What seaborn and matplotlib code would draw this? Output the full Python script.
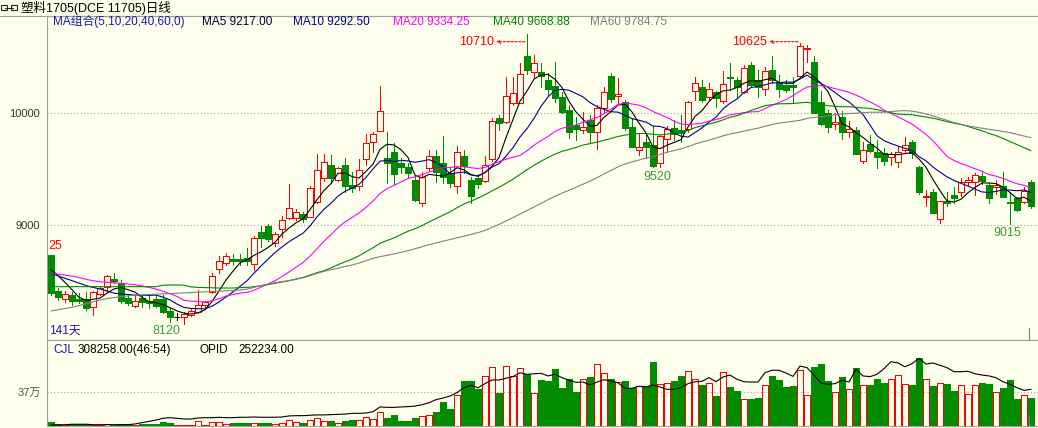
import numpy as np
import pandas as pd
import matplotlib
matplotlib.use("Agg")
import matplotlib.pyplot as plt
import seaborn as sns
from matplotlib.patches import Rectangle
from matplotlib.lines import Line2D

# ---------------- data ----------------
opens = [8735, 8413, 8339, 8378, 8339, 8339, 8274, 8387, 8452, 8521,
         8488, 8354, 8279, 8348, 8324, 8342, 8342, 8238, 8178, 8178,
         8199, 8229, 8288, 8404, 8613, 8666, 8696, 8696, 8705, 8651,
         8940, 8994, 8839, 8964, 9062, 9062, 9098, 9071, 9205, 9425,
         9538, 9404, 9538, 9360, 9354, 9595, 9740, 9845, 9598, 9657,
         9559, 9524, 9405, 9202, 9509, 9622, 9554, 9458, 9354, 9622,
         9405, 9420, 9399, 9589, 9955, 9926, 10089, 10095, 10515, 10366,
         10366, 10298, 10244, 10149, 10030, 9896, 9851, 9940, 9836, 10045,
         10333, 10155, 10104, 9881, 9673, 9741, 9717, 9554, 9768, 9866,
         9851, 9857, 10202, 10232, 10143, 10193, 10113, 10318, 10298, 10193,
         10432, 10298, 10214, 10387, 10283, 10253, 10253, 10336, 10571, 10461,
         10104, 10006, 9902, 9970, 9836, 9851, 9577, 9726, 9658, 9649,
         9607, 9568, 9673, 9741, 9518, 9256, 9295, 9054, 9217, 9271,
         9301, 9384, 9390, 9443, 9360, 9345, 9351, 9211, 9241, 9205,
         9390]
highs = [8735, 8437, 8413, 8407, 8393, 8404, 8413, 8458, 8556, 8571,
         8512, 8378, 8378, 8378, 8378, 8378, 8378, 8259, 8214, 8229,
         8250, 8422, 8327, 8571, 8726, 8755, 8744, 8744, 8794, 8907,
         8994, 9011, 8943, 9083, 9368, 9145, 9121, 9351, 9636, 9636,
         9627, 9517, 9598, 9479, 9589, 9815, 9836, 10246, 9836, 9732,
         9598, 9554, 9449, 9479, 9673, 9673, 9798, 9524, 9708, 9673,
         9435, 9458, 9619, 9955, 9985, 10327, 10327, 10446, 10710, 10521,
         10446, 10357, 10461, 10193, 10074, 9970, 10015, 9985, 10074, 10238,
         10357, 10312, 10119, 9955, 9821, 9821, 9887, 9807, 9887, 9940,
         9985, 10113, 10321, 10298, 10274, 10202, 10381, 10446, 10327, 10432,
         10461, 10387, 10411, 10512, 10342, 10298, 10327, 10625, 10610, 10512,
         10199, 10030, 10006, 10021, 9935, 9881, 9747, 9807, 9762, 9688,
         9658, 9702, 9792, 9762, 9530, 9316, 9321, 9220, 9295, 9345,
         9420, 9435, 9464, 9488, 9375, 9405, 9479, 9301, 9256, 9345,
         9405]
lows = [8378, 8333, 8318, 8288, 8303, 8244, 8199, 8375, 8416, 8482,
        8303, 8288, 8268, 8268, 8259, 8268, 8214, 8140, 8154, 8120,
        8190, 8220, 8268, 8399, 8577, 8642, 8645, 8645, 8645, 8601,
        8803, 8863, 8818, 8898, 9053, 9047, 9032, 9071, 9202, 9398,
        9374, 9398, 9300, 9300, 9315, 9538, 9657, 9845, 9374, 9368,
        9464, 9435, 9220, 9173, 9494, 9390, 9375, 9345, 9292, 9464,
        9202, 9330, 9390, 9577, 9851, 9917, 10074, 10095, 10351, 10312,
        10238, 10164, 10104, 10006, 9777, 9762, 9821, 9747, 9679, 10015,
        10104, 10089, 9851, 9702, 9628, 9598, 9525, 9520, 9658, 9762,
        9747, 9836, 10119, 10104, 10119, 10060, 10095, 10208, 10149, 10179,
        10238, 10149, 10164, 10268, 10149, 10193, 10104, 10336, 10461, 10006,
        9896, 9836, 9863, 9768, 9792, 9637, 9560, 9658, 9509, 9539,
        9539, 9520, 9658, 9598, 9280, 9176, 9113, 9024, 9173, 9202,
        9262, 9351, 9271, 9369, 9202, 9280, 9256, 9015, 9131, 9202,
        9152]
closes = [8393, 8363, 8384, 8327, 8321, 8259, 8407, 8437, 8547, 8506,
          8327, 8309, 8327, 8318, 8309, 8279, 8229, 8184, 8178, 8208,
          8238, 8285, 8318, 8547, 8681, 8726, 8684, 8684, 8681, 8883,
          8883, 8877, 8919, 9047, 9151, 9116, 9053, 9330, 9493, 9562,
          9425, 9508, 9351, 9330, 9493, 9732, 9815, 10020, 9559, 9458,
          9523, 9470, 9226, 9435, 9622, 9479, 9435, 9381, 9652, 9530,
          9265, 9369, 9539, 9932, 9917, 10155, 10184, 10351, 10387, 10452,
          10333, 10214, 10134, 10015, 9836, 9863, 9881, 9836, 10045, 10193,
          10125, 10173, 9866, 9702, 9696, 9696, 9530, 9798, 9857, 9815,
          9821, 10098, 10268, 10119, 10214, 10134, 10262, 10312, 10232, 10402,
          10253, 10232, 10381, 10298, 10217, 10208, 10238, 10601, 10580, 10006,
          9902, 9881, 9926, 9830, 9857, 9637, 9673, 9667, 9613, 9577,
          9637, 9658, 9717, 9649, 9301, 9265, 9113, 9217, 9196, 9247,
          9390, 9405, 9449, 9399, 9247, 9360, 9256, 9196, 9137, 9307,
          9176]
# volume (CJL), unit: 万
volumes = [4.4, 2.2, 1.1, 2.2, 2.2, 1.8, 1.5, 1.5, 2.2, 1.1,
           2.2, 2.2, 1.5, 2.5, 2.2, 2.2, 4.4, 2.9, 1.5, 1.5,
           1.5, 5.1, 1.5, 4.0, 4.0, 2.2, 2.9, 2.9, 2.9, 2.9,
           2.9, 2.9, 2.2, 2.9, 6.2, 4.0, 2.9, 6.2, 8.3, 5.4,
           5.1, 2.9, 5.4, 6.5, 6.5, 9.8, 7.3, 15.6, 8.7, 11.6,
           5.8, 5.4, 8.7, 10.9, 11.6, 15.2, 26.1, 18.5, 33.4, 49.0,
           49.0, 40.6, 54.0, 63.8, 35.5, 64.8, 54.9, 63.4, 56.8, 36.3,
           50.5, 49.5, 61.5, 41.0, 51.6, 37.4, 51.3, 53.8, 67.8, 57.9,
           51.6, 48.0, 49.5, 41.4, 44.0, 43.6, 69.2, 45.8, 46.9, 49.5,
           54.9, 60.1, 51.3, 45.1, 46.9, 33.0, 59.0, 42.9, 38.5, 29.3,
           29.7, 30.8, 45.1, 54.9, 50.5, 42.9, 44.0, 61.2, 34.1, 63.7,
           67.0, 49.5, 37.4, 53.8, 40.3, 62.6, 45.1, 45.1, 51.6, 47.3,
           51.3, 55.7, 45.8, 45.1, 73.6, 51.3, 44.0, 46.9, 46.2, 38.5,
           45.1, 34.8, 45.1, 47.3, 46.2, 37.0, 41.8, 50.5, 29.7, 34.1,
           30.8]
# open interest (OPID), unit: 万
open_interest = [0.7, 0.7, 0.9, 1.2, 1.2, 1.2, 0.9, 0.9, 0.9, 0.9,
                 0.9, 0.9, 1.4, 2.3, 3.2, 4.1, 5.3, 5.7, 5.3, 4.8,
                 4.8, 5.5, 5.7, 5.7, 6.0, 5.7, 5.7, 6.0, 6.0, 6.2,
                 6.0, 6.0, 6.0, 6.2, 6.9, 7.1, 7.1, 7.4, 7.6, 7.6,
                 7.8, 8.0, 8.2, 8.7, 8.7, 8.9, 9.8, 13.1, 12.8, 12.8,
                 13.1, 13.3, 13.7, 14.6, 16.0, 18.1, 19.2, 20.6, 22.9, 26.3,
                 28.0, 26.3, 29.1, 31.6, 31.6, 32.8, 33.9, 36.6, 35.5, 35.9,
                 36.2, 34.4, 35.5, 33.2, 31.4, 30.0, 30.2, 28.2, 30.2, 31.8,
                 30.9, 29.7, 25.9, 25.9, 27.3, 26.8, 28.2, 26.8, 25.2, 25.2,
                 26.3, 29.1, 30.4, 30.7, 33.2, 30.4, 33.7, 35.0, 32.1, 30.4,
                 30.2, 30.2, 36.6, 38.3, 38.3, 36.4, 34.1, 41.2, 40.1, 35.0,
                 29.5, 28.6, 29.1, 31.4, 30.2, 39.0, 34.4, 33.9, 35.5, 39.4,
                 44.2, 43.3, 40.7, 42.8, 46.5, 42.6, 43.3, 41.7, 40.1, 37.3,
                 37.3, 37.6, 35.9, 35.0, 34.4, 33.2, 30.4, 28.6, 26.3, 24.5,
                 25.2]
# moving-average values for the first days (history before the window)
ma5_head = [8604, 8552, 8490, 8425]
ma10_head = [8571, 8548, 8527, 8506, 8484, 8463, 8446, 8431, 8414]
ma20_head = [8570, 8564, 8556, 8547, 8534, 8518, 8505, 8496, 8491, 8487,
             8482, 8475, 8469, 8457, 8446, 8431, 8411, 8390, 8365]
ma40_head = [8452] * 16 + [8465, 8467, 8467, 8465, 8450, 8446, 8444,
                           8442, 8440, 8440, 8440, 8443, 8446,
                           8452, 8461, 8470, 8482, 8494, 8506, 8520, 8535, 8556, 8577]
ma60_head = [8235, 8246, 8256, 8268, 8283, 8300, 8318, 8333, 8346, 8355,
             8363, 8370, 8376, 8379, 8382, 8385, 8388, 8390, 8393, 8396,
             8399, 8403, 8406, 8409, 8412, 8415, 8418, 8422, 8430, 8446,
             8461, 8473, 8488, 8497, 8506, 8517, 8532, 8550, 8571, 8589,
             8604, 8616, 8633, 8645, 8663, 8684, 8705, 8720, 8732, 8744,
             8758, 8773, 8791, 8809, 8826, 8843, 8858, 8873, 8888]
ma_periods = [5, 10, 20, 40, 60]
ma_heads = [ma5_head, ma10_head, ma20_head, ma40_head, ma60_head]
ma_colors = ['#000000', '#00008b', '#ff00ff', '#008800', '#808080']

title_text = '塑料1705(DCE 11705)日线'
ma_header = ['MA组合(5,10,20,40,60,0)', 'MA5 9217.00', 'MA10 9292.50',
             'MA20 9334.25', 'MA40 9668.88', 'MA60 9784.75']
ma_header_colors = ['#1a1aa6', '#000033', '#00008b', '#ff00ff', '#008800', '#808080']
vol_header = ['CJL', '308258.00(46:54)', 'OPID', '252234.00']
vol_header_colors = ['#1a1aa6', '#000000', '#000000', '#000000']
price_ticks = [9000, 10000]
price_tick_labels = ['9000', '10000']
vol_ticks = [37]
vol_tick_labels = ['37万']
high_marks = [(68, '10710'), (107, '10625')]
low_marks = [(19, '8120'), (87, '9520'), (137, '9015')]

# ---------------- style ----------------
sns.set_style('white')
plt.rcParams['font.family'] = ['Liberation Sans', 'Noto Sans CJK SC', 'DejaVu Sans']
plt.rcParams['axes.unicode_minus'] = False

BG = '#ffffee'
RED = '#ff0000'
GREEN = '#008c00'
SPINE = '#a0a0a0'
LW = 0.72          # one pixel at 100 dpi
W, H = 1038, 428
LEFT, TOP, SEP, BOTTOM = 47, 16, 340, 426
Y10000, PX_PER_1000 = 113.3, 112.0
VOL_PX_PER_UNIT = 34.0 / 37.0
OI_UNIT_PER_PX = 0.687

O = np.array(opens, float)
Hh = np.array(highs, float)
Lw = np.array(lows, float)
C = np.array(closes, float)
V = np.array(volumes, float)
n = len(C)
x = np.arange(n)

s = pd.Series(C)
ma_values = []
for p, head in zip(ma_periods, ma_heads):
    m = s.rolling(p).mean().to_numpy()
    m[:p - 1] = head
    ma_values.append(m)

fig = plt.figure(figsize=(W / 100, H / 100), dpi=100, facecolor=BG)
ax = fig.add_axes([LEFT / W, 1 - SEP / H, (W - LEFT) / W, (SEP - TOP) / H])
axv = fig.add_axes([LEFT / W, 1 - BOTTOM / H, (W - LEFT) / W, (BOTTOM - SEP) / H])
for a in (ax, axv):
    a.set_facecolor(BG)
    a.set_xlim(-4 / 7, (W - 51) / 7)
    a.set_xticks([])
    for sp in ('top', 'left', 'bottom'):
        a.spines[sp].set_color(SPINE)
        a.spines[sp].set_linewidth(0.8)
    a.spines['right'].set_visible(False)

ax.set_ylim(10000 - (SEP - Y10000) / PX_PER_1000 * 1000,
            10000 + (Y10000 - TOP) / PX_PER_1000 * 1000)
axv.set_ylim(0, (BOTTOM - SEP) / VOL_PX_PER_UNIT)

# ---------- candles ----------
up = C > O
down = C < O
flat = C == O
lo = np.minimum(O, C)
hi = np.maximum(O, C)
body_h = np.maximum(hi - lo, 9.0)
for mask, col in [(up, RED), (down, GREEN), (flat, '#000000')]:
    ax.vlines(x[mask], Lw[mask], lo[mask], color=col, lw=LW, antialiased=False, zorder=2)
    ax.vlines(x[mask], hi[mask], Hh[mask], color=col, lw=LW, antialiased=False, zorder=2)
ax.bar(x[up], body_h[up], bottom=lo[up], width=0.72, facecolor='none',
       edgecolor=RED, linewidth=LW, antialiased=False, zorder=3)
ax.bar(x[down], body_h[down], bottom=lo[down], width=0.72, facecolor=GREEN,
       edgecolor=GREEN, linewidth=LW, antialiased=False, zorder=3)
ax.hlines(O[flat], x[flat] - 0.36, x[flat] + 0.36, color='#000000', lw=LW, zorder=3)

# ---------- moving averages ----------
for m, col in zip(ma_values, ma_colors):
    sns.lineplot(x=x, y=m, ax=ax, color=col, linewidth=0.8, legend=False, zorder=5)
ax.set_xlabel('')
ax.set_ylabel('')

ax.set_yticks(price_ticks)
ax.set_yticklabels(price_tick_labels)
ax.tick_params(axis='y', length=0, pad=5, labelsize=8, labelcolor='#333333')
ax.yaxis.grid(True, linestyle=(0, (1, 2)), color='#a8a8a8', linewidth=0.8)
ax.xaxis.grid(False)

# high / low annotations
yfrac = 1 - (41.7 - TOP) / (SEP - TOP)
trans = ax.get_xaxis_transform()
for idx, lab in high_marks:
    ax.text(idx - 4.7, yfrac, lab, transform=trans, ha='right', va='center',
            color=RED, fontsize=9, zorder=6)
    ax.annotate('', xy=(idx - 4.4, yfrac), xytext=(idx - 0.3, yfrac),
                xycoords=trans, textcoords=trans,
                arrowprops=dict(arrowstyle='->', color=RED, lw=0.8,
                                linestyle=(0, (2, 1.5)), mutation_scale=6,
                                shrinkA=0, shrinkB=0), zorder=6)
low_offsets = {19: (-17.5, -7), 87: (-3, -9.7), 137: (-3, -9)}
for idx, lab in low_marks:
    ax.annotate(lab, xy=(idx, Lw[idx]), xytext=low_offsets[idx],
                textcoords='offset pixels', ha='center', va='center',
                color='#3a9a3a', fontsize=9, zorder=6, annotation_clip=False)

# ---------- volume pane ----------
vup = C >= O
axv.bar(x[vup], V[vup], width=0.78, facecolor='none', edgecolor=RED,
        linewidth=LW, antialiased=False, zorder=2)
axv.bar(x[~vup], V[~vup], width=0.78, facecolor=GREEN, edgecolor=GREEN,
        linewidth=LW, antialiased=False, zorder=2)
axv.set_yticks(vol_ticks)
axv.set_yticklabels(vol_tick_labels)
axv.tick_params(axis='y', length=0, pad=4, labelsize=8, labelcolor='#555555')
axv.yaxis.grid(True, linestyle=(0, (1, 2)), color='#a8a8a8', linewidth=0.8)
axv.xaxis.grid(False)

axo = axv.twinx()
axo.set_ylim(0, (BOTTOM - SEP) * OI_UNIT_PER_PX)
sns.lineplot(x=x, y=np.array(open_interest), ax=axo, color='black',
             linewidth=0.8, legend=False)
axo.set_xlim(axv.get_xlim())
axo.axis('off')

# ---------- text overlays ----------
def ftext(px, py, s, **kw):
    fig.text(px / W, 1 - py / H, s, va='center', **kw)

# title bar
fig.add_artist(Line2D([0, 1], [1 - TOP / H] * 2, color=SPINE, lw=0.8))
fig.add_artist(Rectangle((1 / W, 1 - 10 / H), 6 / W, 5 / H, fill=False,
                         ec='#202020', lw=0.8, transform=fig.transFigure))
fig.add_artist(Rectangle((11 / W, 1 - 10 / H), 6 / W, 5 / H, fill=False,
                         ec='#202020', lw=0.8, transform=fig.transFigure))
fig.add_artist(Line2D([5 / W, 13 / W], [1 - 7.5 / H] * 2, color='#202020', lw=0.8))
ftext(21, 8, title_text, fontsize=9, color='#000000')

for s_, xx, col in zip(ma_header, [53, 202, 293, 393, 493, 590], ma_header_colors):
    ftext(xx, 22, s_, fontsize=8.5, color=col)
for s_, xx, col in zip(vol_header, [53, 78, 199, 238], vol_header_colors):
    ftext(xx, 350, s_, fontsize=8.5, color=col)

ftext(48, 246, '25', fontsize=9, color=RED)
ftext(49, 331, '141天', fontsize=8.5, color='#1a1aa6')

# small markers at last bar
fig.add_artist(Line2D([1029 / W] * 2, [1 - 328 / H, 1 - 340 / H], color='#808080', lw=0.8))
fig.add_artist(Line2D([1029 / W] * 2, [1 - 415 / H, 1 - 426 / H], color='#808080', lw=0.8))

fig.savefig('out.png', dpi=100, facecolor=BG)
